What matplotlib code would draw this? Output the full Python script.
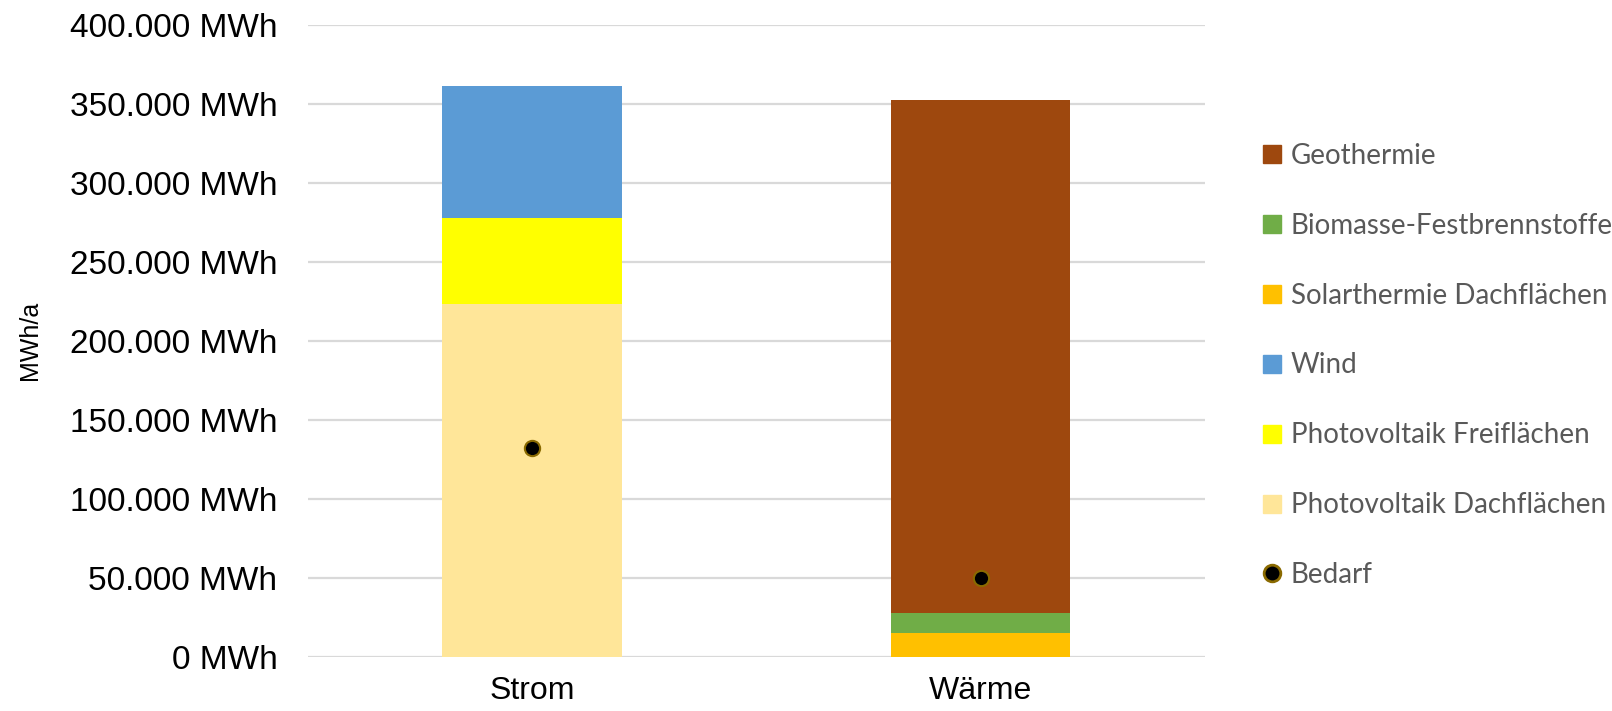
import numpy as np
import matplotlib
matplotlib.use("Agg")
import matplotlib.pyplot as plt
from matplotlib.lines import Line2D
from matplotlib.ticker import FuncFormatter

# Kategorien und Anteile in MWh/a
kategorien = ["Strom", "Wärme"]
pv_dach = [223000, 0]
pv_frei = [55000, 0]
wind = [83000, 0]
solarthermie = [0, 15000]
biomasse = [0, 13000]
geothermie = [0, 324500]
bedarf = [132000, 50000]

# Reihenfolge der Stapel von unten nach oben
serien = [
    ("Photovoltaik Dachflächen", pv_dach, "#FFE699"),
    ("Photovoltaik Freiflächen", pv_frei, "#FFFF00"),
    ("Wind", wind, "#5B9BD5"),
    ("Solarthermie Dachflächen", solarthermie, "#FFC000"),
    ("Biomasse-Festbrennstoffe", biomasse, "#70AD47"),
    ("Geothermie", geothermie, "#9E480E"),
]

fig = plt.figure(figsize=(16.12, 7.11), dpi=100)
ax = fig.add_axes([0.191, 0.0759, 0.5565, 0.8894])

x = np.arange(len(kategorien))
unten = np.zeros(len(kategorien))
handles = []
for name, werte, farbe in serien:
    ax.bar(x, werte, 0.4, bottom=unten, color=farbe, zorder=2)
    unten += np.array(werte)
    handles.append(Line2D([], [], linestyle="none", marker="s", markersize=13,
                          markerfacecolor=farbe, markeredgecolor=farbe, label=name))

ax.plot(x, bedarf, linestyle="none", marker="o", markersize=11,
        markerfacecolor="black", markeredgecolor="#8A6A00", markeredgewidth=1.5, zorder=3)
handles = handles[::-1]
handles.append(Line2D([], [], linestyle="none", marker="o", markersize=12,
                      markerfacecolor="black", markeredgecolor="#8A6A00",
                      markeredgewidth=2, label="Bedarf"))

ax.set_xlim(-0.5, 1.5)
ax.set_ylim(0, 400000)
ax.set_yticks(np.arange(0, 400001, 50000))
ax.yaxis.set_major_formatter(FuncFormatter(lambda v, p: f"{int(v):,}".replace(",", ".") + " MWh"))
ax.set_xticks(x)
ax.set_xticklabels(kategorien)
ax.grid(axis="y", color="#D9D9D9", linewidth=1.6, zorder=0)
ax.set_axisbelow(True)
for s in ax.spines.values():
    s.set_visible(False)
ax.tick_params(axis="y", length=0, pad=22, labelsize=24)
ax.tick_params(axis="x", length=0, pad=14, labelsize=23)
for lbl in ax.get_yticklabels() + ax.get_xticklabels():
    lbl.set_fontfamily("Liberation Sans")

ax.set_ylabel("MWh/a", fontsize=18, fontfamily="Liberation Sans")
ax.yaxis.set_label_coords(-0.296, 0.5)

fig.legend(handles=handles, loc="center left", bbox_to_anchor=(0.775, 0.486),
           frameon=False, prop={"family": "Lato", "size": 20}, labelcolor="#595959",
           labelspacing=1.58, handlelength=0.8, handletextpad=0.3, borderaxespad=0)

fig.savefig("out.png", dpi=100)
